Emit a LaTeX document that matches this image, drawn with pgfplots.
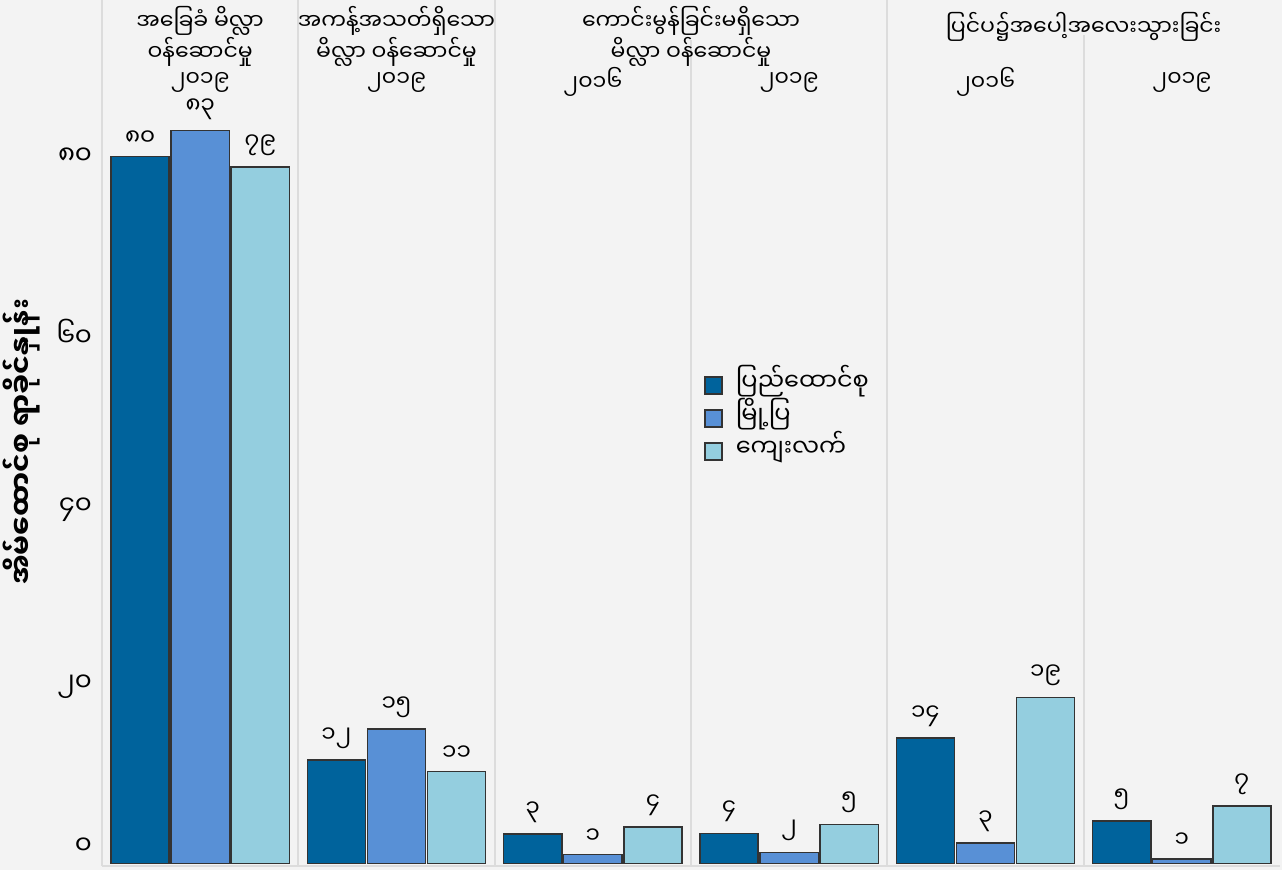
\documentclass[border=0pt]{standalone}
\usepackage{fontspec}
\setmainfont{Noto Sans Myanmar UI}[Script=Myanmar]
\usepackage{pgfplots}
\pgfplotsset{compat=1.18}
\usetikzlibrary{backgrounds}
\definecolor{bgc}{HTML}{F3F3F3}
\definecolor{cA}{HTML}{00639C}
\definecolor{cB}{HTML}{5890D6}
\definecolor{cC}{HTML}{94CEDF}
\definecolor{sepc}{HTML}{DCDCDC}
\begin{document}
\begin{tikzpicture}[font=\fontsize{11}{12.5}\selectfont]
\begin{axis}[
  scale only axis, width=589pt, height=433pt,
  xmin=-0.5, xmax=5.5, ymin=-0.3, ymax=97.7,
  ybar, bar width=0.296,
  axis x line*=bottom, axis y line*=left,
  axis line style={draw=sepc, line width=1pt, -},
  xtick=\empty,
  ytick={20,40,60,80},
  yticklabels={\mbox{၂၀},\mbox{၄၀},\mbox{၆၀},\mbox{၈၀}},
  extra y ticks={0},
  extra y tick labels={\mbox{၀}},
  extra y tick style={yticklabel style={yshift=8.5pt}},
  major tick length=0pt,
  yticklabel style={anchor=east, xshift=-1.5pt, font=\fontsize{13}{14}\selectfont},
  ylabel={\bfseries အိမ်ထောင်စု ရာခိုင်နှုန်း},
  every axis y label/.style={at={(rel axis cs:-0.068,0.49)}, rotate=90, anchor=center, font=\fontsize{14}{15}\selectfont},
  point meta=explicit symbolic,
  nodes near coords,
  every node near coord/.append style={anchor=south, yshift=2pt, font=\fontsize{11.5}{12}\selectfont},
  legend style={at={(rel axis cs:0.506,0.579)}, anchor=north west, draw=none, fill=none,
    font=\fontsize{12}{13}\selectfont, row sep=0pt,
    nodes={inner sep=1pt, text height=10pt, text depth=4.5pt}},
  legend cell align=left,
  legend image code/.code={\draw[#1] (0pt,-4.25pt) rectangle (8.5pt,4.25pt); \path (14pt,0pt);},
  clip=false,
]
\addplot[fill=cA, draw=black!80, line width=0.7pt, bar shift=-0.306] coordinates {
  (0,80) [၈၀] (1,11.7) [၁၂] (2,3.3) [၃] (3,3.4) [၄] (4,14.2) [၁၄] (5,4.8) [၅]};
\addplot[fill=cB, draw=black!80, line width=0.7pt, bar shift=0] coordinates {
  (0,82.9) [၈၃] (1,15.2) [၁၅] (2,1.0) [၁] (3,1.25) [၂] (4,2.3) [၃] (5,0.5) [၁]};
\addplot[fill=cC, draw=black!80, line width=0.7pt, bar shift=0.306] coordinates {
  (0,78.8) [၇၉] (1,10.4) [၁၁] (2,4.1) [၄] (3,4.4) [၅] (4,18.8) [၁၉] (5,6.5) [၇]};
\legend{ပြည်ထောင်စု, မြို့ပြ, ကျေးလက်}
% panel separators
\draw[sepc, line width=1pt] (axis cs:0.5,-0.3) -- (axis cs:0.5,97.7);
\draw[sepc, line width=1pt] (axis cs:1.5,-0.3) -- (axis cs:1.5,97.7);
\draw[sepc, line width=1pt] (axis cs:2.5,-0.3) -- (axis cs:2.5,93.2);
\draw[sepc, line width=1pt] (axis cs:3.5,-0.3) -- (axis cs:3.5,97.7);
\draw[sepc, line width=1pt] (axis cs:4.5,-0.3) -- (axis cs:4.5,93.7);
% headers
\node[align=center, inner sep=0pt] at (axis cs:0,93.6) {အခြေခံ မိလ္လာ\\ဝန်ဆောင်မှု};
\node[align=center, inner sep=0pt] at (axis cs:1,93.6) {အကန့်အသတ်ရှိသော\\မိလ္လာ ဝန်ဆောင်မှု};
\node[align=center, inner sep=0pt] at (axis cs:2.5,93.6) {ကောင်းမွန်ခြင်းမရှိသော\\မိလ္လာ ဝန်ဆောင်မှု};
\node[align=center, inner sep=0pt] at (axis cs:4.5,94.7) {ပြင်ပ၌အပေါ့အလေးသွားခြင်း};
\node[inner sep=0pt] at (axis cs:0,88.4) {၂၀၁၉};
\node[inner sep=0pt] at (axis cs:1,88.4) {၂၀၁၉};
\node[inner sep=0pt] at (axis cs:2,88.4) {၂၀၁၆};
\node[inner sep=0pt] at (axis cs:3,88.4) {၂၀၁၉};
\node[inner sep=0pt] at (axis cs:4,88.4) {၂၀၁၆};
\node[inner sep=0pt] at (axis cs:5,88.4) {၂၀၁၉};
\end{axis}
\begin{scope}[on background layer]
\fill[bgc] (-51pt,-2pt) rectangle (590pt,433pt);
\end{scope}
\pgfresetboundingbox
\path (-51pt,-2pt) rectangle (590pt,433pt);
\end{tikzpicture}
\end{document}
